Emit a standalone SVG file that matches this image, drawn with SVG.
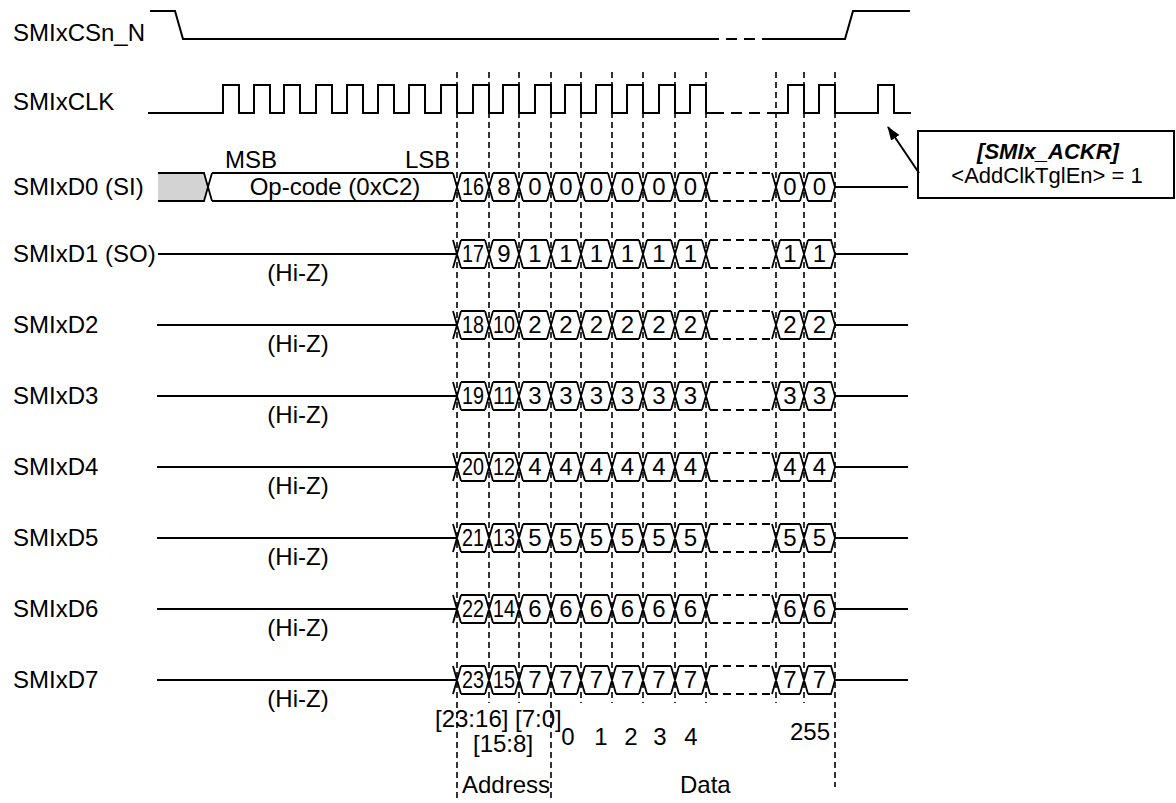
<svg xmlns="http://www.w3.org/2000/svg" xmlns:xlink="http://www.w3.org/1999/xlink" width="1176" height="803" viewBox="0 0 1176 803">
<style>
text{font-family:"Liberation Sans",Arial,sans-serif;font-size:24px;fill:#000}
.sig{fill:none;stroke:#000;stroke-width:2}
.dsig{fill:none;stroke:#000;stroke-width:2;stroke-dasharray:11 7}
.grid{fill:none;stroke:#000;stroke-width:1.6;stroke-dasharray:6 4}
.cell{fill:none;stroke:#000;stroke-width:1.8}
.dcell{fill:none;stroke:#000;stroke-width:1.8;stroke-dasharray:8 5}
.c{text-anchor:middle}
.box{font-size:22px}
</style>
<defs>
<marker id="ah" markerWidth="14" markerHeight="10" refX="13" refY="5" orient="auto" markerUnits="userSpaceOnUse">
<path d="M0,0 L14,5 L0,10 Z" fill="#000"/>
</marker>
<g id="cells">
<path class="cell" d="M453,-14 L461,14 M453,14 L461,-14 M485,-14 L493,14 M485,14 L493,-14 M515,-14 L523,14 M515,14 L523,-14 M547,-14 L555,14 M547,14 L555,-14 M577,-14 L585,14 M577,14 L585,-14 M608,-14 L616,14 M608,14 L616,-14 M639,-14 L647,14 M639,14 L647,-14 M671,-14 L679,14 M671,14 L679,-14 M702,-14 L710,14 M702,14 L710,-14 M772,-14 L780,14 M772,14 L780,-14 M800,-14 L808,14 M800,14 L808,-14"/>
<path class="cell" d="M461,-14 H485 M461,14 H485 M493,-14 H515 M493,14 H515 M523,-14 H547 M523,14 H547 M555,-14 H577 M555,14 H577 M585,-14 H608 M585,14 H608 M616,-14 H639 M616,14 H639 M647,-14 H671 M647,14 H671 M679,-14 H702 M679,14 H702 M780,-14 H800 M780,14 H800 M808,-14 H831 L835,0 L831,14 H808 M835,0 H908"/>
<path class="dcell" d="M710,-14 H772 M710,14 H772"/>
</g>
</defs>
<rect width="1176" height="803" fill="#fff"/>

<g id="gridlines">
<path class="grid" d="M457,72 V800 M551,72 V800 M835,72 V787 M489,72 V703 M519,72 V703 M581,72 V703 M612,72 V703 M643,72 V703 M675,72 V703 M706,72 V703 M776,72 V703 M804,72 V703"/>
</g>

<g id="csn">
<text x="13" y="41">SMIxCSn_N</text>
<path class="sig" d="M150,11 H175 L183,39 H708 M767,39 H845 L853,11 H910"/>
<path class="dsig" d="M708,39 H767"/>
</g>

<g id="clk">
<text x="13" y="110">SMIxCLK</text>
<path class="sig" d="M148,113 H223 V85 H239 V113 H254 V85 H270 V113 H284 V85 H300 V113 H316 V85 H332 V113 H347 V85 H363 V113 H378 V85 H394 V113 H409 V85 H425 V113 H441 V85 H457 V113 H473 V85 H489 V113 H503 V85 H519 V113 H535 V85 H551 V113 H565 V85 H581 V113 H596 V85 H612 V113 H627 V85 H643 V113 H659 V85 H675 V113 H690 V85 H706 V113 H713 M776,113 H788 V85 H804 V113 H819 V85 H835 V113 H878 V85 H894 V113 H911"/>
<path class="dsig" d="M713,113 H776"/>
</g>

<g id="d0">
<text x="13" y="195">SMIxD0 (SI)</text>
<text x="225" y="168">MSB</text>
<text x="405" y="168">LSB</text>
<g transform="translate(0,187)">
<polygon points="158,-14 204,-14 208,0 204,14 158,14" fill="#d3d3d3"/>
<path class="cell" d="M158,-14 H204 L208,0 L204,14 H158 M212,-14 L208,0 L212,14 M212,-14 H453 M212,14 H453"/>
<use xlink:href="#cells"/>
</g>
<text class="c" x="335" y="195">Op-code (0xC2)</text>
<g class="c">
<text x="473" y="195" textLength="22" lengthAdjust="spacingAndGlyphs">16</text><text x="504" y="195">8</text><text x="535" y="195">0</text><text x="566" y="195">0</text><text x="596.5" y="195">0</text><text x="627.5" y="195">0</text><text x="659" y="195">0</text><text x="690.5" y="195">0</text><text x="790" y="195">0</text><text x="819.5" y="195">0</text>
</g>
</g>

<g id="d1">
<text x="13" y="262">SMIxD1 (SO)</text>
<g transform="translate(0,254)"><path class="cell" d="M158,0 H457"/><use xlink:href="#cells"/></g>
<text class="c" x="298" y="281">(Hi-Z)</text>
<g class="c">
<text x="473" y="262" textLength="22" lengthAdjust="spacingAndGlyphs">17</text><text x="504" y="262">9</text><text x="535" y="262">1</text><text x="566" y="262">1</text><text x="596.5" y="262">1</text><text x="627.5" y="262">1</text><text x="659" y="262">1</text><text x="690.5" y="262">1</text><text x="790" y="262">1</text><text x="819.5" y="262">1</text>
</g>
</g>

<g id="d2">
<text x="13" y="333">SMIxD2</text>
<g transform="translate(0,325)"><path class="cell" d="M157,0 H457"/><use xlink:href="#cells"/></g>
<text class="c" x="298" y="352">(Hi-Z)</text>
<g class="c">
<text x="473" y="333" textLength="22" lengthAdjust="spacingAndGlyphs">18</text><text x="504" y="333" textLength="22" lengthAdjust="spacingAndGlyphs">10</text><text x="535" y="333">2</text><text x="566" y="333">2</text><text x="596.5" y="333">2</text><text x="627.5" y="333">2</text><text x="659" y="333">2</text><text x="690.5" y="333">2</text><text x="790" y="333">2</text><text x="819.5" y="333">2</text>
</g>
</g>

<g id="d3">
<text x="13" y="404">SMIxD3</text>
<g transform="translate(0,396)"><path class="cell" d="M157,0 H457"/><use xlink:href="#cells"/></g>
<text class="c" x="298" y="423">(Hi-Z)</text>
<g class="c">
<text x="473" y="404" textLength="22" lengthAdjust="spacingAndGlyphs">19</text><text x="504" y="404" textLength="22" lengthAdjust="spacingAndGlyphs">11</text><text x="535" y="404">3</text><text x="566" y="404">3</text><text x="596.5" y="404">3</text><text x="627.5" y="404">3</text><text x="659" y="404">3</text><text x="690.5" y="404">3</text><text x="790" y="404">3</text><text x="819.5" y="404">3</text>
</g>
</g>

<g id="d4">
<text x="13" y="475">SMIxD4</text>
<g transform="translate(0,467)"><path class="cell" d="M157,0 H457"/><use xlink:href="#cells"/></g>
<text class="c" x="298" y="494">(Hi-Z)</text>
<g class="c">
<text x="473" y="475" textLength="22" lengthAdjust="spacingAndGlyphs">20</text><text x="504" y="475" textLength="22" lengthAdjust="spacingAndGlyphs">12</text><text x="535" y="475">4</text><text x="566" y="475">4</text><text x="596.5" y="475">4</text><text x="627.5" y="475">4</text><text x="659" y="475">4</text><text x="690.5" y="475">4</text><text x="790" y="475">4</text><text x="819.5" y="475">4</text>
</g>
</g>

<g id="d5">
<text x="13" y="546">SMIxD5</text>
<g transform="translate(0,538)"><path class="cell" d="M157,0 H457"/><use xlink:href="#cells"/></g>
<text class="c" x="298" y="565">(Hi-Z)</text>
<g class="c">
<text x="473" y="546" textLength="22" lengthAdjust="spacingAndGlyphs">21</text><text x="504" y="546" textLength="22" lengthAdjust="spacingAndGlyphs">13</text><text x="535" y="546">5</text><text x="566" y="546">5</text><text x="596.5" y="546">5</text><text x="627.5" y="546">5</text><text x="659" y="546">5</text><text x="690.5" y="546">5</text><text x="790" y="546">5</text><text x="819.5" y="546">5</text>
</g>
</g>

<g id="d6">
<text x="13" y="617">SMIxD6</text>
<g transform="translate(0,609)"><path class="cell" d="M157,0 H457"/><use xlink:href="#cells"/></g>
<text class="c" x="298" y="636">(Hi-Z)</text>
<g class="c">
<text x="473" y="617" textLength="22" lengthAdjust="spacingAndGlyphs">22</text><text x="504" y="617" textLength="22" lengthAdjust="spacingAndGlyphs">14</text><text x="535" y="617">6</text><text x="566" y="617">6</text><text x="596.5" y="617">6</text><text x="627.5" y="617">6</text><text x="659" y="617">6</text><text x="690.5" y="617">6</text><text x="790" y="617">6</text><text x="819.5" y="617">6</text>
</g>
</g>

<g id="d7">
<text x="13" y="688">SMIxD7</text>
<g transform="translate(0,680)"><path class="cell" d="M157,0 H457"/><use xlink:href="#cells"/></g>
<text class="c" x="298" y="707">(Hi-Z)</text>
<g class="c">
<text x="473" y="688" textLength="22" lengthAdjust="spacingAndGlyphs">23</text><text x="504" y="688" textLength="22" lengthAdjust="spacingAndGlyphs">15</text><text x="535" y="688">7</text><text x="566" y="688">7</text><text x="596.5" y="688">7</text><text x="627.5" y="688">7</text><text x="659" y="688">7</text><text x="690.5" y="688">7</text><text x="790" y="688">7</text><text x="819.5" y="688">7</text>
</g>
</g>

<g id="axis-labels">
<text x="435" y="727">[23:16] [7:0]</text>
<text x="473" y="752">[15:8]</text>
<text class="c" x="568" y="745">0</text>
<text class="c" x="601" y="745">1</text>
<text class="c" x="631" y="745">2</text>
<text class="c" x="660" y="745">3</text>
<text class="c" x="691" y="745">4</text>
<text x="790" y="740">255</text>
<text x="462" y="793">Address</text>
<text x="680" y="793">Data</text>
</g>

<g id="ackr">
<rect x="918" y="131" width="256" height="67" fill="#fff" stroke="#000" stroke-width="2"/>
<text class="c box" x="1048" y="159" font-weight="bold" font-style="italic">[SMIx_ACKR]</text>
<text class="c box" x="1047" y="183">&lt;AddClkTglEn&gt; = 1</text>
</g>

<g id="connectors">
<line x1="919" y1="173" x2="888" y2="127" stroke="#000" stroke-width="2" marker-end="url(#ah)"/>
</g>
</svg>
